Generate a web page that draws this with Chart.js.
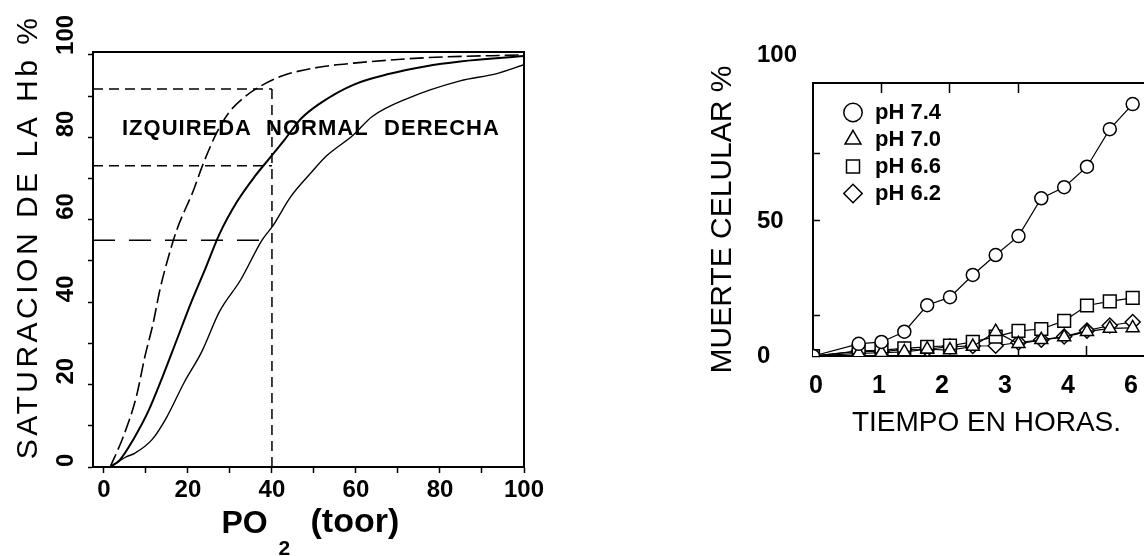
<!DOCTYPE html>
<html>
<head>
<meta charset="utf-8">
<script src="https://cdn.jsdelivr.net/npm/chart.js@4.4.1/dist/chart.umd.min.js"></script>
<style>
  html, body { margin: 0; padding: 0; background: #fff; width: 1144px; height: 556px; overflow: hidden; }
  .panel { position: absolute; top: 0; }
  #izq { left: 0; }
  #der { left: 680px; }
</style>
</head>
<body>
<div class="panel" id="izq"><canvas id="hbChart" width="560" height="556"></canvas></div>
<div class="panel" id="der"><canvas id="muerteChart" width="500" height="556"></canvas></div>
<script>
const FONT = "'Liberation Sans', Arial, sans-serif"
Chart.defaults.font.family = FONT
Chart.defaults.color = "#000"

// curvas de disociacion de la Hb (PO2 en toor, saturacion %)
const po2Izq = [1.5, 4.7, 7.7, 9.8, 11.7, 13.3, 14.9, 17.3, 21.3, 23.6, 26.8, 29.6, 33, 37.6, 42.7, 51.1, 59.5, 76.4, 100]
const satIzq = [0, 7.6, 17, 27, 34.8, 42.9, 49.3, 57.4, 67.1, 73.5, 81, 85.8, 89.4, 92.6, 95, 97, 98, 99.3, 100]
const po2Normal = [1.5, 3.8, 6.9, 10.6, 14, 17.4, 20.8, 24.1, 27.5, 31.7, 35.9, 39.5, 42.7, 46.9, 51.1, 59.5, 68, 76.4, 84.8, 100]
const satNormal = [0, 1.7, 6.5, 13.6, 22, 31, 40, 48, 56.5, 64.4, 70.5, 75, 79, 84.5, 88, 92.8, 95.4, 97.2, 98.4, 99.7]
const po2Der = [1.5, 5.4, 7.3, 11.5, 14.9, 19.1, 23.3, 27.5, 32.6, 37.6, 40.2, 44.4, 49.4, 53, 59.3, 63.8, 72.2, 84.8, 93.3, 100]
const satDer = [0, 2.5, 3.3, 6.7, 12, 20.5, 28, 37.7, 45.5, 55, 58.5, 65.5, 71.5, 75.5, 80.5, 85, 89.4, 93.7, 95.4, 97.6]
const po2Ticks = [0, 10, 20, 30, 40, 50, 60, 70, 80, 90, 100]
const satTicks = [0, 10, 20, 30, 40, 50, 60, 70, 80, 90, 100]
const guiaSat = [91.7, 73.1, 55]
const guiaPo2 = 40
const rotulos = ["IZQUIREDA", "NORMAL", "DERECHA"]
const rotulosPo2 = [4.3, 38.6, 66.7]
const rotuloSat = 80.6

// muerte celular vs tiempo
const horas = [0, 0.667, 1, 1.333, 1.667, 2, 2.333, 2.667, 3, 3.333, 3.667, 4, 4.333, 4.667]
const ph74 = [0, 4.5, 5.2, 9, 18.8, 21.8, 30, 37.4, 44.4, 58.4, 62.5, 70.1, 84, 93.3]
const ph70 = [0, 1.0, 1.2, 1.5, 2.5, 2.2, 3.5, 9.0, 4.5, 6.0, 7.0, 9.0, 10.2, 10.4]
const ph66 = [0, 1.8, 2.2, 2.8, 3.4, 3.8, 5.2, 7.2, 9.3, 10, 13, 18.7, 20.2, 21.5]
const ph62 = [0, 1.8, 1.6, 2.4, 2.5, 3.5, 3.7, 3.8, 5.0, 6.0, 7.2, 9.4, 11.3, 12.6]
const serieNombres = ["pH 7.4", "pH 7.0", "pH 6.6", "pH 6.2"]
const horaEtiquetas = ["0", "1", "2", "3", "4", "6"]
const muerteEtiquetas = [0, 50, 100]
const muerteTicks = [0, 15, 50, 75]
const horaTicksArriba = [1, 2, 3]
const horaTicksAbajo = [3, 4]

const PO2_MIN = -2.6
const pares = (xs, ys) => xs.map((x, i) => ({ x, y: ys[i] }))
const fijarTicks = (lista) => (s) => { s.ticks = lista.map((v) => ({ value: v })) }
const negro = "#000"

// ---------- grafico izquierdo ----------
const curva = (datos, ancho, dash) => ({
  data: datos,
  borderColor: negro,
  borderWidth: ancho,
  borderDash: dash,
  pointRadius: 0,
  cubicInterpolationMode: "monotone",
})

const guias = guiaSat.map((s, i) => ({
  data: [{ x: PO2_MIN, y: s }, { x: guiaPo2, y: s }],
  borderColor: negro,
  borderWidth: 1.5,
  borderDash: i === 2 ? [22, 14] : [10, 6],
  pointRadius: 0,
}))
guias.push({
  data: [{ x: guiaPo2, y: 0 }, { x: guiaPo2, y: guiaSat[0] }],
  borderColor: negro,
  borderWidth: 1.5,
  borderDash: [10, 6],
  pointRadius: 0,
})

const textosHb = {
  id: "textosHb",
  afterDraw(chart) {
    const { ctx, chartArea, scales } = chart
    ctx.save()
    ctx.fillStyle = negro
    ctx.textBaseline = "alphabetic"
    ctx.font = `bold 22px ${FONT}`
    ctx.letterSpacing = "1px"
    rotulos.forEach((t, i) => {
      ctx.fillText(t, scales.x.getPixelForValue(rotulosPo2[i]), scales.y.getPixelForValue(rotuloSat))
    })
    // titulo del eje x: PO2 (toor)
    const cx = (chartArea.left + chartArea.right) / 2
    ctx.letterSpacing = "0px"
    ctx.font = `bold 32px ${FONT}`
    ctx.fillText("PO", cx - 87, 533)
    ctx.font = `bold 21px ${FONT}`
    ctx.fillText("2", cx - 30, 555)
    ctx.font = `bold 34px ${FONT}`
    ctx.fillText("(toor)", cx + 2, 532)
    // titulo del eje y
    ctx.font = `30px ${FONT}`
    ctx.letterSpacing = "3.5px"
    ctx.textAlign = "center"
    ctx.translate(37, 237)
    ctx.rotate(-Math.PI / 2)
    ctx.fillText("SATURACION DE LA Hb %", 0, 0)
    ctx.restore()
  },
}

new Chart(document.getElementById("hbChart"), {
  type: "line",
  data: {
    datasets: [
      curva(pares(po2Izq, satIzq), 1.6, [14, 5]),
      curva(pares(po2Normal, satNormal), 2, []),
      curva(pares(po2Der, satDer), 1.4, []),
      ...guias,
    ],
  },
  options: {
    responsive: false,
    animation: false,
    events: [],
    layout: { padding: { left: 54, top: 52, right: 36, bottom: 49 } },
    plugins: { legend: { display: false }, tooltip: { enabled: false } },
    scales: {
      x: {
        type: "linear",
        min: PO2_MIN,
        max: 100,
        afterBuildTicks: fijarTicks(po2Ticks),
        ticks: {
          callback: (v) => (v % 20 === 0 ? v : ""),
          font: { size: 24, weight: "bold" },
          padding: 3,
          maxRotation: 0,
          autoSkip: false,
        },
        grid: { drawOnChartArea: false, tickLength: 6, tickWidth: 1.5, tickColor: negro },
        border: { color: negro, width: 2 },
        afterFit: (s) => { s.height = 40 },
      },
      x2: {
        type: "linear",
        position: "top",
        min: PO2_MIN,
        max: 100,
        ticks: { display: false },
        grid: { display: false },
        border: { color: negro, width: 2 },
        afterFit: (s) => { s.height = 0 },
      },
      y: {
        type: "linear",
        min: 0,
        max: 100.7,
        afterBuildTicks: fijarTicks(satTicks),
        ticks: {
          callback: (v) => (v % 20 === 0 ? v : ""),
          font: { size: 24, weight: "bold" },
          minRotation: 90,
          maxRotation: 90,
          crossAlign: "far",
          align: "start",
          autoSkip: false,
        },
        grid: { drawOnChartArea: false, tickLength: 5, tickWidth: 1.5, tickColor: negro },
        border: { color: negro, width: 2 },
        afterFit: (s) => { s.width = 39 },
      },
      y2: {
        type: "linear",
        position: "right",
        min: 0,
        max: 100.7,
        ticks: { display: false },
        grid: { display: false },
        border: { color: negro, width: 2 },
        afterFit: (s) => { s.width = 0 },
      },
    },
  },
  plugins: [textosHb],
})

// ---------- grafico derecho ----------
const marcas = [
  { pointStyle: "circle", pointRadius: 6.5 },
  { pointStyle: "triangle", pointRadius: 7.5 },
  { pointStyle: "rect", pointRadius: 9 },
  { pointStyle: "rectRot", pointRadius: 7.5 },
]

const muerteDatasets = [ph74, ph70, ph66, ph62].map((serie, i) => ({
  label: serieNombres[i],
  data: pares(horas, serie),
  borderColor: negro,
  borderWidth: 1.2,
  backgroundColor: "#fff",
  pointBackgroundColor: "#fff",
  pointBorderColor: negro,
  pointBorderWidth: 1.5,
  pointStyle: marcas[i].pointStyle,
  pointRadius: marcas[i].pointRadius,
  tension: 0,
  xAxisID: "x",
  yAxisID: "y",
}))

const extrasMuerte = {
  id: "extrasMuerte",
  afterLayout(chart) {
    // la leyenda va dentro del area del grafico, arriba a la izquierda
    const { legend, chartArea } = chart
    const alto = legend.bottom - legend.top
    legend.left = chartArea.left + 24
    legend.right = chartArea.right + 24
    legend.top = chartArea.top + 13.5
    legend.bottom = legend.top + alto
  },
  afterDraw(chart) {
    const { ctx, chartArea, scales } = chart
    ctx.save()
    ctx.fillStyle = negro
    ctx.font = `bold 24px ${FONT}`
    ctx.textAlign = "left"
    ctx.textBaseline = "middle"
    ctx.fillText(String(muerteEtiquetas[2]), scales.y.left, chartArea.top - 28)
    ctx.restore()
  },
}

const HORA_MAX = 5.066
new Chart(document.getElementById("muerteChart"), {
  type: "line",
  data: { datasets: muerteDatasets },
  options: {
    responsive: false,
    animation: false,
    events: [],
    layout: { padding: { left: 20, top: 83, right: 20, bottom: 112 } },
    plugins: {
      tooltip: { enabled: false },
      legend: {
        position: "chartArea",
        align: "start",
        labels: {
          usePointStyle: true,
          boxHeight: 13,
          padding: 5,
          color: negro,
          font: { size: 22, weight: "bold" },
        },
      },
    },
    scales: {
      x: {
        type: "linear",
        position: "bottom",
        weight: 0,
        min: 0,
        max: HORA_MAX,
        afterBuildTicks: fijarTicks(horaTicksAbajo),
        ticks: { display: false },
        grid: { drawOnChartArea: false, tickLength: -10, tickWidth: 1.5, tickColor: negro },
        border: { color: negro, width: 2 },
        afterFit: (s) => { s.height = 0 },
      },
      xt: {
        type: "linear",
        position: "top",
        min: 0,
        max: HORA_MAX,
        afterBuildTicks: fijarTicks(horaTicksArriba),
        ticks: { display: false },
        grid: { drawOnChartArea: false, tickLength: -10, tickWidth: 1.5, tickColor: negro },
        border: { color: negro, width: 2 },
        afterFit: (s) => { s.height = 0 },
      },
      xl: {
        type: "linear",
        position: "bottom",
        weight: 1,
        min: -0.0476,
        max: 5.46,
        afterBuildTicks: fijarTicks([0, 1, 2, 3, 4, 5]),
        ticks: {
          callback: (v, i) => horaEtiquetas[i],
          font: { size: 25, weight: "bold" },
          padding: 15,
          maxRotation: 0,
          autoSkip: false,
        },
        grid: { display: false, drawTicks: false },
        border: { display: false },
        title: {
          display: true,
          text: "TIEMPO EN HORAS.",
          font: { size: 28 },
          padding: { top: 0, bottom: 4 },
        },
        afterFit: (s) => { s.height = 88 },
      },
      y: {
        type: "linear",
        position: "left",
        weight: 0,
        min: 0,
        max: 101.1,
        afterBuildTicks: fijarTicks(muerteTicks),
        ticks: {
          callback: (v) => (muerteEtiquetas.includes(v) ? v : ""),
          font: { size: 24, weight: "bold" },
          crossAlign: "far",
          autoSkip: false,
        },
        grid: { drawOnChartArea: false, tickLength: -7, tickWidth: 1.5, tickColor: negro },
        border: { color: negro, width: 2 },
        afterFit: (s) => { s.width = 56 },
      },
      yt: {
        type: "linear",
        position: "left",
        weight: 1,
        min: 0,
        max: 1,
        ticks: { display: false },
        grid: { display: false, drawTicks: false },
        border: { display: false },
        title: {
          display: true,
          text: "MUERTE CELULAR %",
          font: { size: 30 },
          padding: { top: 5, bottom: 0 },
        },
        afterFit: (s) => { s.width = 57 },
      },
    },
  },
  plugins: [extrasMuerte],
})
</script>
</body>
</html>
